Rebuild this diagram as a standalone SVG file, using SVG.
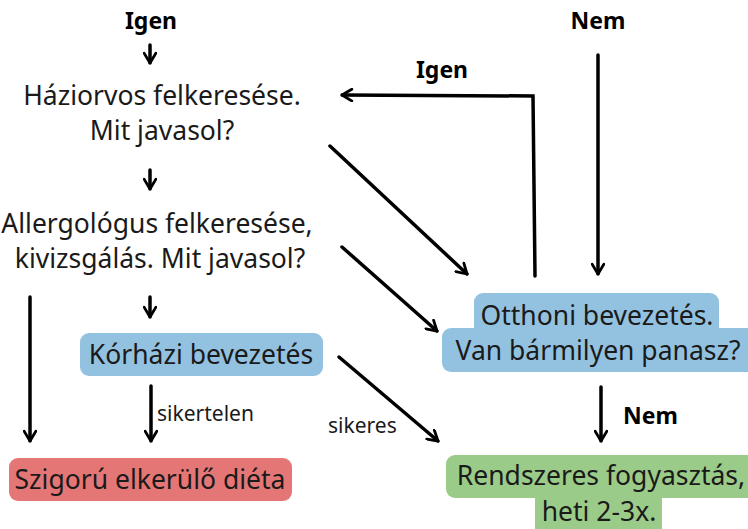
<svg xmlns="http://www.w3.org/2000/svg" width="748" height="529" viewBox="0 0 748 529">
<style>
text{font-family:"Noto Sans","Open Sans",sans-serif;fill:#1a1a1a}
.t{font-size:26.5px}
.b{font-size:23px;font-weight:bold;fill:#000}
.s{font-size:21px}
.c{stroke:#000;stroke-width:3.5;fill:none;stroke-linecap:round;marker-end:url(#ah)}
.blue{fill:#93C2E0}.red{fill:#E57676}.green{fill:#9BCB88}
</style>
<defs>
<marker id="ah" viewBox="0 0 10 10" refX="9" refY="5" markerWidth="4" markerHeight="4" orient="auto" markerUnits="strokeWidth">
<polyline points="2,0.8 9,5 2,9.2" fill="none" stroke="#000" stroke-width="2" stroke-linecap="round" stroke-linejoin="round"/>
</marker>
</defs>
<g id="connectors">
<line class="c" x1="150" y1="45" x2="150" y2="63"/>
<line class="c" x1="150" y1="170" x2="150" y2="189"/>
<line class="c" x1="150" y1="297" x2="150" y2="317"/>
<line class="c" x1="151" y1="386" x2="151" y2="441"/>
<line class="c" x1="30" y1="297" x2="30" y2="441"/>
<line class="c" x1="339" y1="357" x2="438" y2="441"/>
<line class="c" x1="330" y1="146" x2="467" y2="274"/>
<line class="c" x1="342" y1="247" x2="437" y2="331"/>
<polyline class="c" points="535,276 533,96 342,95"/>
<line class="c" x1="598" y1="55" x2="598" y2="274"/>
<line class="c" x1="601" y1="387" x2="601" y2="441"/>
</g>
<g id="label-igen-top"><text class="b" x="151" y="29" text-anchor="middle">Igen</text></g>
<g id="label-nem-top"><text class="b" x="598" y="29" text-anchor="middle">Nem</text></g>
<g id="label-igen-back"><text class="b" x="442" y="78" text-anchor="middle">Igen</text></g>
<g id="label-nem-bottom"><text class="b" x="623" y="424">Nem</text></g>
<g id="label-sikertelen"><text class="s" x="157" y="421">sikertelen</text></g>
<g id="label-sikeres"><text class="s" x="328" y="433">sikeres</text></g>
<g id="haziorvos">
<text class="t" x="162" y="105" text-anchor="middle">Háziorvos felkeresése.</text>
<text class="t" x="162" y="140" text-anchor="middle">Mit javasol?</text>
</g>
<g id="allergologus">
<text class="t" x="157" y="233" text-anchor="middle">Allergológus felkeresése,</text>
<text class="t" x="160" y="268" text-anchor="middle">kivizsgálás. Mit javasol?</text>
</g>
<g id="korhazi">
<rect class="blue" x="80" y="333" width="243" height="43" rx="9"/>
<text class="t" x="201" y="364" text-anchor="middle">Kórházi bevezetés</text>
</g>
<g id="szigoru">
<rect class="red" x="9" y="458" width="283" height="43" rx="9"/>
<text class="t" x="150" y="489" text-anchor="middle">Szigorú elkerülő diéta</text>
</g>
<g id="otthoni">
<rect class="blue" x="474" y="293" width="245" height="44" rx="9"/>
<rect class="blue" x="442" y="328" width="316" height="44" rx="9"/>
<text class="t" x="597" y="325" text-anchor="middle">Otthoni bevezetés.</text>
<text class="t" x="598" y="360" text-anchor="middle">Van bármilyen panasz?</text>
</g>
<g id="rendszeres">
<rect class="green" x="446" y="455" width="312" height="43" rx="9"/>
<rect class="green" x="535" y="490" width="127" height="50" rx="9"/>
<text class="t" x="601" y="485" text-anchor="middle">Rendszeres fogyasztás,</text>
<text class="t" x="599" y="521" text-anchor="middle">heti 2-3x.</text>
</g>
</svg>
